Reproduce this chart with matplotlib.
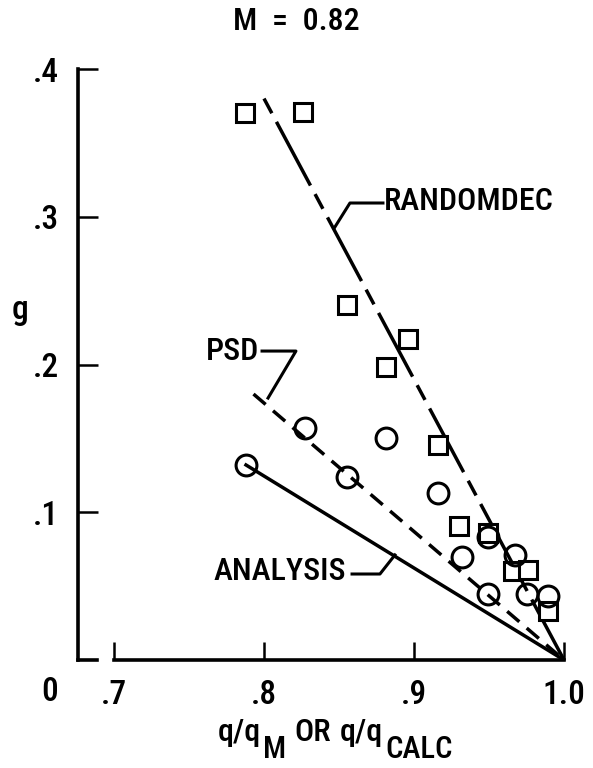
import matplotlib
matplotlib.use("Agg")
import matplotlib.pyplot as plt
from matplotlib import font_manager

# ---- data ----
randomdec_x = [0.787, 0.826, 0.855, 0.881, 0.896, 0.916, 0.930, 0.949, 0.966, 0.976, 0.989]
randomdec_y = [0.370, 0.371, 0.240, 0.198, 0.217, 0.1455, 0.091, 0.086, 0.060, 0.061, 0.033]
psd_x = [0.788, 0.827, 0.855, 0.881, 0.916, 0.932, 0.949, 0.949, 0.967, 0.975, 0.989]
psd_y = [0.132, 0.157, 0.124, 0.150, 0.113, 0.070, 0.083, 0.045, 0.071, 0.045, 0.043]
rd_fit_x = [0.800, 1.0]
rd_fit_y = [0.380, 0.0]
psd_fit_x = [0.793, 1.0]
psd_fit_y = [0.180, 0.0]
analysis_x = [0.788, 1.0]
analysis_y = [0.132, 0.0]
xticks = [0.7, 0.8, 0.9, 1.0]
xtick_labels = [".7", ".8", ".9", "1.0"]
yticks = [0.1, 0.2, 0.3, 0.4]
ytick_labels = [".1", ".2", ".3", ".4"]

# pick a narrow sans font if one is installed
fonts = font_manager.fontManager.ttflist
names = {f.name for f in fonts}
fam = None
stretch = 'normal'
for cand in ["Liberation Sans Narrow", "Roboto Condensed", "Open Sans Condensed",
             "Arial Narrow"]:
    if cand in names:
        fam = cand
        break
if fam is None:
    cond = [f for f in fonts if (isinstance(f.stretch, str) and 'condensed' in f.stretch)
            or (isinstance(f.stretch, int) and f.stretch < 500)]
    cond_names = [f.name for f in cond if 'Mono' not in f.name and 'Serif' not in f.name]
    if cond_names:
        fam = cond_names[0]
        stretch = 'condensed'
    else:
        fam = "Liberation Sans"
plt.rcParams['font.family'] = [fam, 'DejaVu Sans']
plt.rcParams['font.stretch'] = stretch
plt.rcParams['font.weight'] = 'medium'
plt.rcParams['lines.scale_dashes'] = False

W, H = 593, 768
fig = plt.figure(figsize=(W / 100, H / 100), dpi=100)
def fx(px): return px / W
def fy(py): return 1 - py / H

ax = fig.add_axes([fx(78), fy(660), fx(564) - fx(78), fy(69) - fy(660)])
xmin = 0.7 - 36 / 1500
ax.set_xlim(xmin, 1.0)
ax.set_ylim(0, 0.4)

for s in ['top', 'right']:
    ax.spines[s].set_visible(False)
ax.spines['left'].set_linewidth(2.6)
ax.spines['bottom'].set_linewidth(2.6)
ax.spines['bottom'].set_bounds(0.7, 1.0)
ax.spines['left'].set_capstyle('projecting')
ax.plot([xmin, 0.7 - 17 / 1500], [0, 0], color='black', lw=2.6, clip_on=False,
        solid_capstyle='projecting')

fs_tick = 24
ax.set_xticks(xticks)
ax.set_xticklabels(xtick_labels)
ax.set_yticks(yticks)
ax.set_yticklabels(ytick_labels)
ax.tick_params(axis='x', direction='in', length=13, width=1.8, pad=14, labelsize=fs_tick)
ax.tick_params(axis='y', direction='in', length=14.4, width=1.8, pad=14, labelsize=fs_tick)

# fitted lines
l1, = ax.plot(rd_fit_x, rd_fit_y, color='black', lw=2.5, zorder=2)
l1.set_dashes([12, 7, 52, 7])
l2, = ax.plot(psd_fit_x, psd_fit_y, color='black', lw=2.5, zorder=2)
l2.set_dashes([11.5, 7])
ax.plot(analysis_x, analysis_y, color='black', lw=2.5, zorder=2)

# markers
ax.plot(randomdec_x, randomdec_y, ls='none', marker='s', ms=12.5, mew=2.2,
        mfc='white', mec='black', zorder=3, clip_on=False)
ax.plot(psd_x, psd_y, ls='none', marker='o', ms=15, mew=2.2,
        mfc='none', mec='black', zorder=4, clip_on=False)

# leaders and labels
fs_lab = 23
ax.plot([0.8473, 0.8573, 0.8793], [0.2931, 0.3093, 0.3093], color='black', lw=2.2)
ax.text(0.8800, 0.310, "RANDOMDEC", fontsize=fs_lab, ha='left', va='center')
ax.plot([0.7987, 0.8213, 0.8027], [0.2091, 0.2091, 0.1773], color='black', lw=2.2)
ax.text(0.7965, 0.2085, "PSD", fontsize=fs_lab, ha='right', va='center')
ax.plot([0.8587, 0.8773, 0.8873], [0.0582, 0.0582, 0.0711], color='black', lw=2.2)
ax.text(0.8545, 0.0596, "ANALYSIS", fontsize=fs_lab, ha='right', va='center')

# extra text
fig.text(fx(50), fy(692), "0", fontsize=fs_tick, ha='center', va='center')
fig.text(fx(20), fy(310), "g", fontsize=fs_tick, ha='center', va='center')
fig.text(fx(296), fy(21), "M  =  0.82", fontsize=23, ha='center', va='center')

# x label built from pieces
fig.canvas.draw()
r = fig.canvas.get_renderer()
x = 218
base = 741
pieces = [("q/q", 0, 23, 2), ("M", 17, 22, 8), ("OR", 0, 23, 9), ("q/q", 0, 23, 2),
          ("CALC", 17, 22, 0)]
for txt, dy, fs, gap in pieces:
    t = fig.text(fx(x), fy(base + dy), txt, fontsize=fs, ha='left', va='baseline')
    bb = t.get_window_extent(r)
    x += bb.width + gap

fig.savefig("out.png", dpi=100)
